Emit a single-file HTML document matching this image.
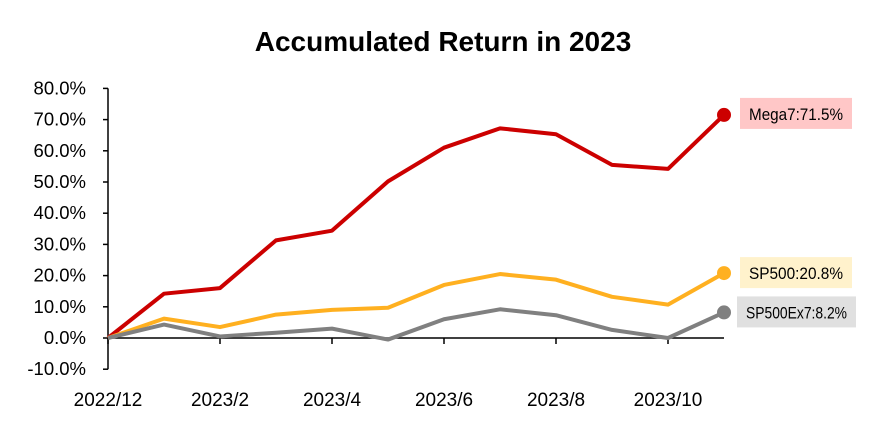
<!DOCTYPE html>
<html><head><meta charset="utf-8"><style>
body{margin:0;background:#fff;width:886px;height:443px;overflow:hidden;font-family:"Liberation Sans",sans-serif}
</style></head><body>
<svg id="chart" width="886" height="443" xmlns="http://www.w3.org/2000/svg" font-family="Liberation Sans, sans-serif">
<text x="443" y="51" text-anchor="middle" font-size="28" font-weight="bold" fill="#000">Accumulated Return in 2023</text>
<g id="axes"></g><g id="series"></g><g id="labels"></g>
</svg>
<script>
const months=["2022/12","2023/1","2023/2","2023/3","2023/4","2023/5","2023/6","2023/7","2023/8","2023/9","2023/10","2023/11"];
const mega7=[0,14.2,16,31.3,34.4,50.2,61,67.2,65.3,55.5,54.2,71.5];
const sp500=[0,6.2,3.5,7.5,9,9.7,17,20.5,18.7,13.2,10.7,20.8];
const sp500ex7=[0,4.3,0.5,1.7,3,-0.5,6,9.2,7.3,2.6,0,8.2];
const yTicks=[-10,0,10,20,30,40,50,60,70,80];
const xTickLabels=["2022/12","2023/2","2023/4","2023/6","2023/8","2023/10"];
const ns="http://www.w3.org/2000/svg";
const x0=108,dx=56,y0=338,py=3.12;
const X=i=>x0+i*dx, Y=v=>y0-v*py;
function mk(tag,attrs,parent,text){const e=document.createElementNS(ns,tag);for(const k in attrs)e.setAttribute(k,attrs[k]);if(text!==undefined)e.textContent=text;parent.appendChild(e);return e;}
const axes=document.getElementById('axes');
const yl=mk('line',{x1:x0,x2:x0,y1:Y(80),y2:Y(-10),stroke:'#000','stroke-width':1.5},axes);


yTicks.forEach(t=>{
 const l=mk('line',{x1:x0-5,x2:x0,y1:Y(t),y2:Y(t),stroke:'#000','stroke-width':1.5},axes);
 
 
 const tx=mk('text',{x:86,y:Y(t)+6,'text-anchor':'end','font-size':18.5},axes,t.toFixed(1)+'%');
 
 
});
const xl=mk('line',{x1:x0,x2:X(months.length-1),y1:Y(0),y2:Y(0),stroke:'#000','stroke-width':1.5},axes);


xTickLabels.forEach(lab=>{
 const i=months.indexOf(lab);
 const l=mk('line',{x1:X(i),x2:X(i),y1:Y(0),y2:Y(0)+6,stroke:'#000','stroke-width':1.5},axes);
 
 
 const tx=mk('text',{x:X(i),y:406,'text-anchor':'middle','font-size':19},axes,lab);
 
 
});
const ser=[
 {name:'Mega7',d:mega7,c:'#cc0000',bg:'#ffc7c7',bx:740,bw:112},
 {name:'SP500',d:sp500,c:'#ffb020',bg:'#fff2cc',bx:740,bw:112},
 {name:'SP500Ex7',d:sp500ex7,c:'#808080',bg:'#e0e0e0',bx:737,bw:119}
];
const sg=document.getElementById('series'),lg=document.getElementById('labels');
ser.forEach((s,k)=>{
 const p=mk('polyline',{points:s.d.map((v,i)=>X(i)+','+Y(v)).join(' '),fill:'none',stroke:s.c,'stroke-width':4,'stroke-linejoin':'round'},sg);
 
 
 const n=s.d.length-1,v=s.d[n];
 const c=mk('circle',{cx:X(n),cy:Y(v),r:7,fill:s.c},sg);
 
 
 let cy=Y(v); if(k===0) cy-=1;
 const r=mk('rect',{x:s.bx,y:cy-16,width:s.bw,height:31,fill:s.bg},lg);
 
 
 const t=mk('text',{x:s.bx+s.bw/2,y:cy+6,'text-anchor':'middle','font-size':17,'textLength':s.bw-18,'lengthAdjust':'spacingAndGlyphs'},lg,s.name+':'+v.toFixed(1)+'%');
 
 
});
</script>
</body></html>
